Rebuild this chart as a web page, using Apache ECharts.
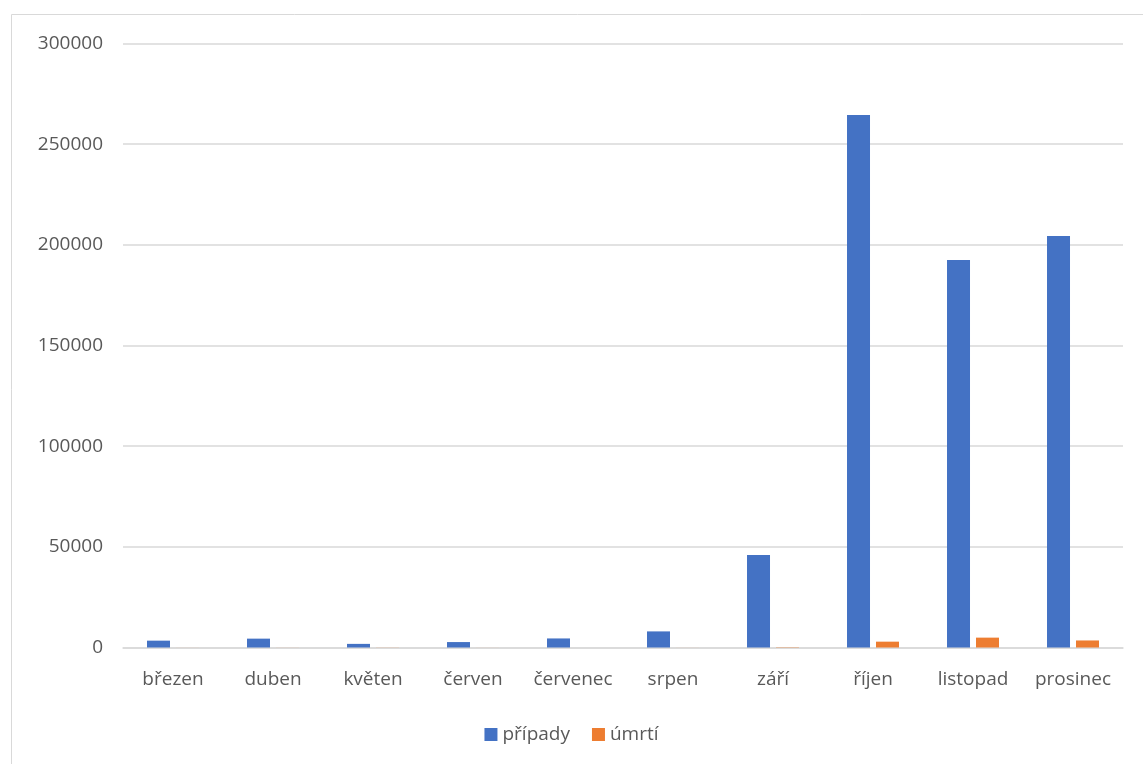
<!DOCTYPE html>
<html><head><meta charset="utf-8">
<script src="https://cdn.jsdelivr.net/npm/echarts@6/dist/echarts.min.js"></script>
<style>html,body{margin:0;padding:0;background:#fff}#c{width:1143px;height:764px}</style>
</head><body><div id="c"></div>
<script>
var categories = ['březen','duben','květen','červen','červenec','srpen','září','říjen','listopad','prosinec'];
var pripady = [3400, 4400, 1800, 2700, 4500, 8000, 46000, 264500, 192500, 204400];
var umrti = [20, 30, 50, 20, 10, 20, 150, 2900, 4900, 3500];
var yTicks = [0, 50000, 100000, 150000, 200000, 250000, 300000];
var font = 'Open Sans';
var chart = echarts.init(document.getElementById('c'));
chart.setOption({
  animation: false,
  graphic: [{type:'rect', shape:{x:11.5,y:14.5,width:1140,height:760}, style:{fill:null, stroke:'#d9d9d9', lineWidth:1}, silent:true}],
  grid: {left:123, right:20, top:43.5, bottom:116.5, containLabel:false},
  legend: {
    data:['případy','úmrtí'], bottom: 15, left:'center', itemWidth:13, itemHeight:13, itemGap:22,
    icon:'rect',
    textStyle:{color:'#595959', fontSize:19, fontFamily:font}
  },
  xAxis: {
    type:'category', data: categories,
    axisLine:{lineStyle:{color:'#d9d9d9', width:1.5}},
    axisTick:{show:false},
    axisLabel:{color:'#595959', fontSize:19, fontFamily:font, margin:23, interval:0}
  },
  yAxis: {
    type:'value', min:yTicks[0], max:yTicks[yTicks.length-1], interval:50000,
    axisLine:{show:false}, axisTick:{show:false},
    splitLine:{lineStyle:{color:'#d9d9d9', width:1.5}},
    axisLabel:{color:'#595959', fontSize:19, fontFamily:font, margin:20, formatter:function(v){return String(v);}}
  },
  series: [
    {name:'případy', type:'bar', data:pripady, barWidth:23, barGap:'26%', itemStyle:{color:'#4472c4'}},
    {name:'úmrtí', type:'bar', data:umrti, barWidth:23, itemStyle:{color:'#ed7d31'}}
  ]
});
</script></body></html>
